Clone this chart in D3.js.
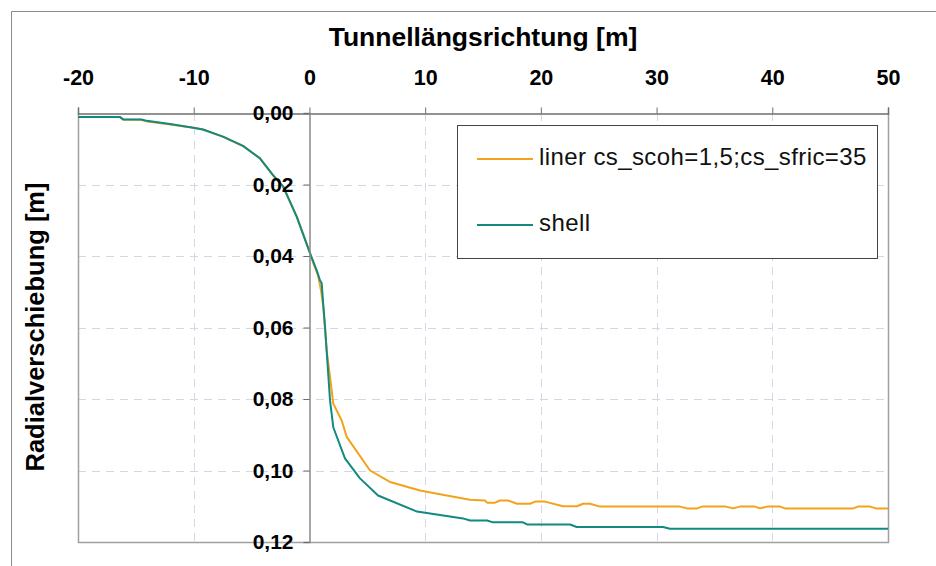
<!DOCTYPE html>
<html>
<head>
<meta charset="utf-8">
<script src="https://cdn.jsdelivr.net/npm/d3@7"></script>
<style>
  body { margin:0; background:#fff; }
  svg text { font-family: Arial, "Liberation Sans", sans-serif; }
</style>
</head>
<body>
<div id="chart"></div>
<script>
//DATA
var xTicks = [-20, -10, 0, 10, 20, 30, 40, 50];
var yTicks = [0, 0.02, 0.04, 0.06, 0.08, 0.10, 0.12];
var seriesNames = ["liner cs_scoh=1,5;cs_sfric=35", "shell"];

// [Tunnellängsrichtung, Radialverschiebung]
var linerPoints = [
  [-20, 0.0011], [-16.4, 0.0011], [-16.1, 0.0018], [-14.6, 0.0019], [-14.0, 0.0024],
  [-12.0, 0.0032], [-10.0, 0.0041], [-9.2, 0.0046], [-7.5, 0.0066], [-5.7, 0.0093],
  [-4.3, 0.0126], [-3.2, 0.0172], [-2.3, 0.0205], [-1.1, 0.0290], [0.05, 0.0392],
  [0.34, 0.0421], [0.74, 0.0454], [1.0, 0.0496], [1.2, 0.0542], [1.49, 0.0664],
  [1.78, 0.0738], [2.06, 0.0813], [2.79, 0.0860], [3.22, 0.0906], [5.24, 0.1000],
  [6.96, 0.1032], [9.56, 0.1056], [11.86, 0.1070], [13.88, 0.1082], [15.17, 0.1084],
  [15.35, 0.1090], [16.04, 0.1090], [16.47, 0.1084], [17.16, 0.1084], [17.94, 0.1093],
  [19.06, 0.1093], [19.5, 0.1087], [20.36, 0.1087], [21.91, 0.1100], [23.12, 0.1100],
  [23.64, 0.1093], [24.25, 0.1093], [25.11, 0.1101], [32.03, 0.1101], [32.63, 0.1106],
  [33.5, 0.1106], [33.93, 0.1101], [36.0, 0.1101], [36.6, 0.1106], [37.2, 0.1101],
  [38.5, 0.1101], [38.94, 0.1106], [39.55, 0.1101], [40.67, 0.1101], [41.1, 0.1106],
  [46.98, 0.1106], [47.4, 0.1101], [48.45, 0.1101], [48.97, 0.1106], [50, 0.1106]
];

var shellPoints = [
  [-20, 0.0011], [-16.4, 0.0011], [-16.1, 0.0018], [-14.5, 0.0018], [-14.06, 0.0022],
  [-12.05, 0.0031], [-10.04, 0.0041], [-9.2, 0.0046], [-7.47, 0.0066], [-5.74, 0.0092],
  [-4.27, 0.0127], [-3.15, 0.0174], [-2.26, 0.0206], [-1.1, 0.0290], [0.05, 0.0392],
  [0.63, 0.0440], [0.91, 0.0468], [1.06, 0.0476], [1.2, 0.0538], [1.35, 0.0599],
  [1.78, 0.0804], [2.06, 0.0879], [3.07, 0.0966], [4.37, 0.1022], [5.93, 0.1070],
  [9.3, 0.1115], [13.27, 0.1134], [13.88, 0.1140], [15.35, 0.1140], [15.87, 0.1145],
  [18.46, 0.1145], [18.8, 0.1151], [22.52, 0.1151], [23.1, 0.1158], [30.56, 0.1158],
  [31.16, 0.1163], [50, 0.1163]
];

var colors = ["#f3a21c", "#128a7f"];

var width = 936;
var height = 566;
var plot = {left: 78, right: 888, top: 113, bottom: 542};

var de = d3.formatLocale({decimal: ",", thousands: ".", grouping: [3], currency: ["", "€"]});

(function(){
  var svg = d3.select("#chart").append("svg")
    .attr("width", width)
    .attr("height", height);

  //outer chart frame (only top and left visible)
  svg.append("path")
    .attr("d", "M11.5," + height + "V11.5H" + width)
    .attr("fill", "none")
    .attr("stroke", "#8c8c8c");

  var x = d3.scaleLinear().domain([-20, 50]).range([plot.left, plot.right]);
  var y = d3.scaleLinear().domain([0, 0.12]).range([plot.top, plot.bottom]);

  //grid
  var grid = svg.append("g").attr("class", "grid")
    .attr("stroke", "#d6d6e6").attr("stroke-dasharray", "8,6").attr("stroke-width", 1);
  grid.selectAll("line.v").data(xTicks.filter(function(d){ return d != -20 && d != 0 && d != 50; }))
    .enter().append("line")
    .attr("x1", function(d){ return Math.round(x(d)) + 0.5; })
    .attr("x2", function(d){ return Math.round(x(d)) + 0.5; })
    .attr("y1", plot.top).attr("y2", plot.bottom);
  grid.selectAll("line.h").data(yTicks.filter(function(d){ return d > 0 && d < 0.12; }))
    .enter().append("line")
    .attr("y1", function(d){ return Math.round(y(d)) + 0.5; })
    .attr("y2", function(d){ return Math.round(y(d)) + 0.5; })
    .attr("x1", plot.left).attr("x2", plot.right);

  //plot frame
  svg.append("path")
    .attr("d", "M" + (plot.left + 0.5) + "," + plot.top + "V" + (plot.bottom + 0.5) + "H" + (plot.right + 0.5) + "V" + plot.top)
    .attr("fill", "none")
    .attr("stroke", "#a0a0a0")
    .attr("stroke-width", 1.5);

  //series
  var line = d3.line()
    .x(function(d){ return x(d[0]); })
    .y(function(d){ return y(d[1]); });

  [linerPoints, shellPoints].forEach(function(pts, i){
    svg.append("path")
      .datum(pts)
      .attr("d", line)
      .attr("fill", "none")
      .attr("stroke", colors[i])
      .attr("stroke-width", 2)
      .attr("stroke-linejoin", "round");
  });

  //x axis on top
  var xAxis = d3.axisTop(x).tickValues(xTicks).tickSize(6).tickPadding(23)
    .tickFormat(de.format("d"));
  var gx = svg.append("g")
    .attr("transform", "translate(0," + (plot.top + 0.5) + ")")
    .call(xAxis);
  gx.select(".domain").attr("stroke", "#6e6e6e").attr("stroke-width", 1.5);
  gx.selectAll(".tick line").attr("stroke", "#6e6e6e");
  gx.selectAll(".tick text")
    .attr("fill", "#000").attr("font-size", 21.5).attr("font-weight", "bold")
    .text(function(d){ return d < 0 ? "-" + Math.abs(d) : d; });

  //y axis at x = 0
  var yAxis = d3.axisLeft(y).tickValues(yTicks).tickSize(6).tickPadding(10)
    .tickFormat(de.format(".2f"));
  var gy = svg.append("g")
    .attr("transform", "translate(" + (Math.round(x(0)) + 0.5) + ",0)")
    .call(yAxis);
  gy.select(".domain").attr("stroke", "#8a8a8a").attr("stroke-width", 1.5);
  gy.selectAll(".tick line").attr("stroke", "#6e6e6e");
  gy.selectAll(".tick text")
    .attr("fill", "#000").attr("font-size", 21).attr("font-weight", "bold");

  //titles
  svg.append("text")
    .attr("x", 483).attr("y", 46)
    .attr("text-anchor", "middle")
    .attr("font-size", 26.5).attr("font-weight", "bold")
    .text("Tunnellängsrichtung [m]");

  svg.append("text")
    .attr("transform", "translate(44,327) rotate(-90)")
    .attr("text-anchor", "middle")
    .attr("font-size", 25.5).attr("font-weight", "bold")
    .text("Radialverschiebung [m]");

  //legend
  var lg = svg.append("g");
  lg.append("rect")
    .attr("x", 457.5).attr("y", 125.5).attr("width", 420).attr("height", 133)
    .attr("fill", "#fff").attr("stroke", "#444").attr("stroke-width", 1);
  var items = lg.selectAll("g.item").data(seriesNames).enter().append("g")
    .attr("transform", function(d, i){ return "translate(0," + (i * 66) + ")"; });
  items.append("line")
    .attr("x1", 477).attr("x2", 533).attr("y1", 159).attr("y2", 159)
    .attr("stroke", function(d, i){ return colors[i]; })
    .attr("stroke-width", 2);
  items.append("text")
    .attr("x", 539).attr("y", 165)
    .attr("font-size", 24)
    .attr("letter-spacing", 0.4)
    .attr("fill", "#111")
    .text(function(d){ return d; });
})();
</script>
</body>
</html>
